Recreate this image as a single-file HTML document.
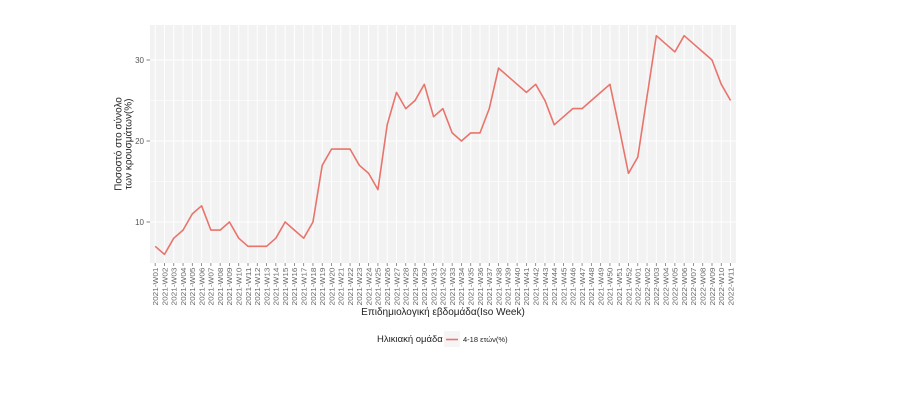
<!DOCTYPE html>
<html>
<head>
<meta charset="utf-8">
<style>
  html,body{margin:0;padding:0;background:#fff;}
  svg{display:block;}
  text{font-family:"Liberation Sans","DejaVu Sans",sans-serif;}
</style>
</head>
<body>
<svg width="900" height="414" viewBox="0 0 900 414" xmlns="http://www.w3.org/2000/svg">
  <rect x="0" y="0" width="900" height="414" fill="#ffffff"/>
  <!-- panel -->
  <rect x="150" y="25" width="586" height="238" fill="#F2F2F2"/>
  <g stroke="#FFFFFF" stroke-width="0.6">
    <line x1="150" x2="736" y1="181.5" y2="181.5"/>
    <line x1="150" x2="736" y1="100.5" y2="100.5"/>
  </g>
  <g stroke="#FFFFFF" stroke-width="1.1">
    <line x1="150" x2="736" y1="222" y2="222"/>
    <line x1="150" x2="736" y1="141" y2="141"/>
    <line x1="150" x2="736" y1="60" y2="60"/>
  </g>
  <g id="vgrid" stroke="#FFFFFF" stroke-width="1"></g>
  <!-- series -->
  <polyline fill="none" stroke="#E8746C" stroke-width="1.6" stroke-linejoin="round"
    points="155.2,246.3 164.48,254.4 173.76,238.2 183.04,230.1 192.32,213.9 201.6,205.8 210.88,230.1 220.16,230.1 229.44,222 238.72,238.2 248,246.3 257.28,246.3 266.56,246.3 275.84,238.2 285.12,222 294.4,230.1 303.68,238.2 312.96,222 322.24,165.3 331.52,149.1 340.8,149.1 350.08,149.1 359.36,165.3 368.64,173.4 377.92,189.6 387.2,124.8 396.48,92.4 405.76,108.6 415.04,100.5 424.32,84.3 433.6,116.7 442.88,108.6 452.16,132.9 461.44,141 470.72,132.9 480,132.9 489.28,108.6 498.56,68.1 507.84,76.2 517.12,84.3 526.4,92.4 535.68,84.3 544.96,100.5 554.24,124.8 563.52,116.7 572.8,108.6 582.08,108.6 591.36,100.5 600.64,92.4 609.92,84.3 619.2,128 628.48,173.4 637.76,157.2 647.04,96.45 656.32,35.7 665.6,43.8 674.88,51.9 684.16,35.7 693.44,43.8 702.72,51.9 712,60 721.28,84.3 730.56,100.5"/>
  <!-- y ticks -->
  <g stroke="#666" stroke-width="0.8">
    <line x1="146.5" x2="150" y1="222" y2="222"/>
    <line x1="146.5" x2="150" y1="141" y2="141"/>
    <line x1="146.5" x2="150" y1="60" y2="60"/>
  </g>
  <g font-size="8" fill="#555" text-anchor="end">
    <text x="144" y="224.8">10</text>
    <text x="144" y="143.8">20</text>
    <text x="144" y="62.8">30</text>
  </g>
  <g id="xticks"></g>
  <!-- y title -->
  <g font-size="10" fill="#222" text-anchor="middle">
    <text transform="translate(121.5,144) rotate(-90)">Ποσοστό στο σύνολο</text>
    <text transform="translate(131.5,144) rotate(-90)">των κρουσμάτων(%)</text>
  </g>
  <!-- x title -->
  <text x="443" y="315" font-size="10" fill="#222" text-anchor="middle">Επιδημιολογική εβδομάδα(Iso Week)</text>
  <!-- legend -->
  <text x="377" y="342" font-size="9.5" fill="#222">Ηλικιακή ομάδα</text>
  <rect x="444" y="331" width="16" height="16" fill="#F5F5F5"/>
  <line x1="446" x2="458" y1="339.5" y2="339.5" stroke="#E8746C" stroke-width="1.6"/>
  <text x="463" y="342" font-size="7.5" fill="#222">4-18 ετών(%)</text>
</svg>
<script>
(function(){
  var ns="http://www.w3.org/2000/svg";
  var vg=document.getElementById("vgrid");
  var xt=document.getElementById("xticks");
  for(var i=0;i<63;i++){
    var x=155.2+9.28*i;
    var l=document.createElementNS(ns,"line");
    l.setAttribute("x1",x);l.setAttribute("x2",x);
    l.setAttribute("y1",25);l.setAttribute("y2",263);
    vg.appendChild(l);
    var t=document.createElementNS(ns,"line");
    t.setAttribute("x1",x);t.setAttribute("x2",x);
    t.setAttribute("y1",263);t.setAttribute("y2",266);
    t.setAttribute("stroke","#777");t.setAttribute("stroke-width","0.8");
    xt.appendChild(t);
    var lab;
    if(i<52){var n=i+1;lab="2021-W"+(n<10?"0"+n:n);}
    else{var m=i-51;lab="2022-W"+(m<10?"0"+m:m);}
    var tx=document.createElementNS(ns,"text");
    tx.setAttribute("transform","translate("+(x+2.8)+",267.5) rotate(-90)");
    tx.setAttribute("text-anchor","end");
    tx.setAttribute("font-size","7.6");
    tx.setAttribute("fill","#6a6a6a");
    tx.setAttribute("textLength","38");
    tx.setAttribute("lengthAdjust","spacingAndGlyphs");
    tx.textContent=lab;
    xt.appendChild(tx);
  }
})();
</script>
</body>
</html>
